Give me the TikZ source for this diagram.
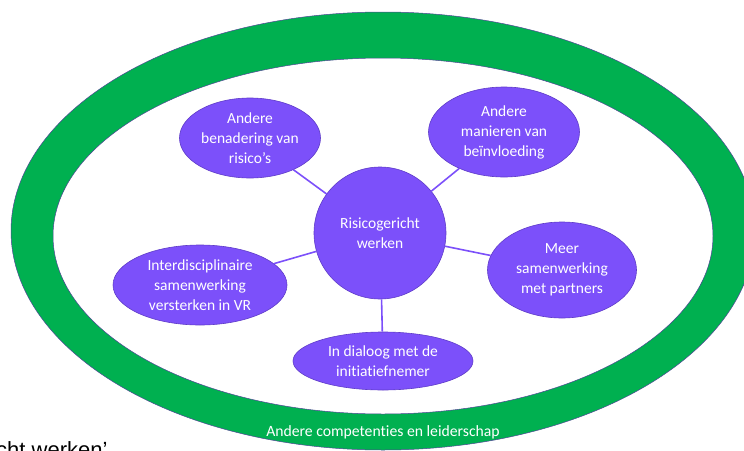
\documentclass[tikz,border=0pt]{standalone}
\usepackage{fontspec}
\setmainfont{Carlito}[Ligatures=NoCommon]
\newfontfamily\arialfont{Liberation Sans}
\usetikzlibrary{shapes.geometric}

\definecolor{ringgreen}{RGB}{0,176,80}
\definecolor{ringedge}{RGB}{80,70,150}
\definecolor{riskpurple}{RGB}{124,80,250}
\definecolor{riskedge}{RGB}{95,60,200}

\begin{document}
\begin{tikzpicture}[
  x=1pt, y=-1pt,
  risknode/.style={draw=riskedge,line width=0.6pt,fill=riskpurple,ellipse,inner sep=0pt,
    text=white,align=center,font=\fontsize{15.5}{20}\selectfont},
  hubnode/.style={risknode,circle,minimum size=132pt},
  link/.style={draw=riskpurple,line width=1.6pt}
]
  \clip (0,0) rectangle (744,450);

  % ring
  \fill[ringgreen,even odd rule] (383,231) ellipse [x radius=372,y radius=219]
    (383,236) ellipse [x radius=330,y radius=178];
  \draw[ringedge,line width=0.5pt] (383,231) ellipse [x radius=372,y radius=219];
  \draw[ringedge,line width=0.5pt] (383,236) ellipse [x radius=330,y radius=178];
  \node[text=white,font=\fontsize{15.7}{18}\selectfont] (ring) at (383,432) {Andere competenties en leiderschap};

  % hub
  \node[hubnode] (hub) at (380,233) {Risicogericht\\werken};

  % spokes
  \node[risknode,minimum width=141pt,minimum height=80pt] (benadering) at (250,138) {Andere\\benadering van\\risico's};
  \node[risknode,minimum width=151pt,minimum height=90pt] (invloed) at (504,132) {Andere\\manieren van\\beïnvloeding};
  \node[risknode,minimum width=149pt,minimum height=96pt] (partners) at (562,270) {Meer\\samenwerking\\met partners};
  \node[risknode,minimum width=174pt,minimum height=80pt] (vr) at (200,285) {Interdisciplinaire\\samenwerking\\versterken in VR};
  \node[risknode,minimum width=180pt,minimum height=58pt] (dialoog) at (383,361) {In dialoog met de\\initiatiefnemer};

  % links
  \draw[link] (hub) -- (benadering);
  \draw[link] (hub) -- (invloed);
  \draw[link] (hub) -- (partners);
  \draw[link] (hub) -- (vr);
  \draw[link] (hub) -- (dialoog);

  % cut-off caption
  \node[anchor=base west,font=\arialfont\fontsize{22}{26}\selectfont,inner sep=0pt] (caption) at (-4,457) {cht werken’};
\end{tikzpicture}
\end{document}
